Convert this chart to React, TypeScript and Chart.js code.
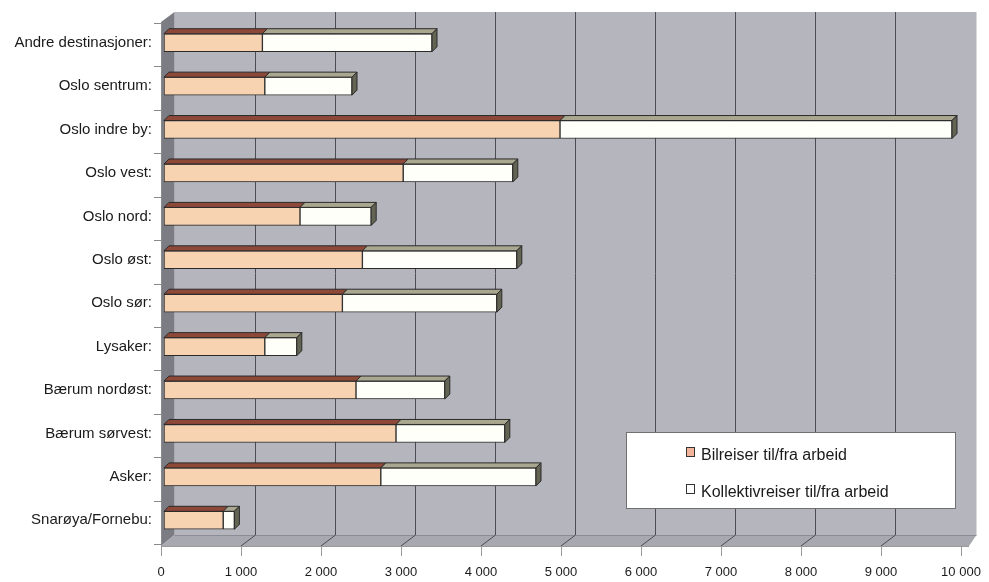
import React, { useEffect, useRef } from "react";
import { Chart, registerables } from "chart.js";
Chart.register(...registerables);

const categories = [
  "Andre destinasjoner:",
  "Oslo sentrum:",
  "Oslo indre by:",
  "Oslo vest:",
  "Oslo nord:",
  "Oslo øst:",
  "Oslo sør:",
  "Lysaker:",
  "Bærum nordøst:",
  "Bærum sørvest:",
  "Asker:",
  "Snarøya/Fornebu:",
];
const bilreiser = [1230, 1260, 4950, 2990, 1700, 2480, 2230, 1260, 2400, 2900, 2710, 740];
const kollektivreiser = [2120, 1090, 4900, 1370, 890, 1930, 1930, 400, 1110, 1360, 1940, 140];
const seriesLabels = ["Bilreiser til/fra arbeid", "Kollektivreiser til/fra arbeid"];
const xMin = 0;
const xMax = 10000;
const xStep = 1000;

const FONT = "'Liberation Sans', Arial, sans-serif";
const fmt = (v: number) => String(v).replace(/\B(?=(\d{3})+(?!\d))/g, " ");

const DX = 5;
const DY = 5;

const threeD = {
  id: "threeD",
  beforeDatasetsDraw(chart: any) {
    const { ctx, chartArea: ca, scales } = chart;
    const x = scales.x;
    const y = scales.y;
    const backTop = ca.top - 9;
    const backBottom = ca.bottom - 7;
    const frontBottom = ca.bottom + 4;
    const bx = (v: number) => x.getPixelForValue(v) + 10.5;
    const fx = (v: number) => x.getPixelForValue(v) - 3;
    ctx.save();
    // back wall
    ctx.fillStyle = "#b5b5bd";
    ctx.fillRect(bx(xMin), backTop, bx(xMax) + 2 - bx(xMin), backBottom - backTop);
    // left wall
    ctx.fillStyle = "#7c7c84";
    ctx.beginPath();
    ctx.moveTo(fx(xMin), backTop + 10);
    ctx.lineTo(bx(xMin), backTop);
    ctx.lineTo(bx(xMin), backBottom);
    ctx.lineTo(fx(xMin), frontBottom);
    ctx.closePath();
    ctx.fill();
    // floor
    ctx.fillStyle = "#a8a8b0";
    ctx.beginPath();
    ctx.moveTo(fx(xMin), frontBottom);
    ctx.lineTo(bx(xMin), backBottom);
    ctx.lineTo(bx(xMax) + 2, backBottom);
    ctx.lineTo(fx(xMax) + 8, frontBottom);
    ctx.closePath();
    ctx.fill();
    ctx.strokeStyle = "#8c8c94";
    ctx.beginPath();
    ctx.moveTo(bx(xMin), backBottom + 0.5);
    ctx.lineTo(bx(xMax) + 2, backBottom + 0.5);
    ctx.stroke();
    // grid lines
    ctx.strokeStyle = "#4c4c52";
    ctx.lineWidth = 1;
    for (let v = xMin + xStep; v < xMax; v += xStep) {
      const b = Math.round(bx(v)) + 0.5;
      ctx.beginPath();
      ctx.moveTo(b, backTop);
      ctx.lineTo(b, backBottom);
      ctx.lineTo(fx(v), frontBottom);
      ctx.stroke();
    }
    // front axis tick marks
    ctx.strokeStyle = "#9a9a9a";
    for (let v = xMin; v <= xMax; v += xStep) {
      const f = Math.round(fx(v)) + 0.5;
      ctx.beginPath();
      ctx.moveTo(f, frontBottom);
      ctx.lineTo(f, frontBottom + 10);
      ctx.stroke();
    }
    ctx.beginPath();
    ctx.moveTo(fx(xMin), frontBottom + 0.5);
    ctx.lineTo(fx(xMax) + 8, frontBottom + 0.5);
    ctx.stroke();
    // left axis line and ticks
    ctx.strokeStyle = "#8a8a8a";
    ctx.beginPath();
    ctx.moveTo(Math.round(fx(xMin)) + 0.5, backTop + 10);
    ctx.lineTo(Math.round(fx(xMin)) + 0.5, frontBottom);
    ctx.stroke();
    const n = categories.length;
    for (let i = 0; i <= n; i++) {
      const yy = i < n ? y.getPixelForValue(i) - (y.getPixelForValue(1) - y.getPixelForValue(0)) / 2 : ca.bottom;
      const py = Math.round(yy + 2) + 0.5;
      ctx.beginPath();
      ctx.moveTo(fx(xMin) - 7, py);
      ctx.lineTo(fx(xMin), py);
      ctx.stroke();
    }
    ctx.restore();
  },
  afterDatasetsDraw(chart: any) {
    const { ctx } = chart;
    const topColors = ["#8e4838", "#aaa790"];
    ctx.save();
    ctx.lineWidth = 1;
    ctx.strokeStyle = "#2a2a2a";
    chart.data.datasets.forEach((ds: any, di: number) => {
      const meta = chart.getDatasetMeta(di);
      meta.data.forEach((el: any) => {
        const { x, y, base, height } = el.getProps(["x", "y", "base", "height"], true);
        const top = y - height / 2;
        const bottom = y + height / 2;
        ctx.fillStyle = topColors[di];
        ctx.beginPath();
        ctx.moveTo(base, top);
        ctx.lineTo(base + DX, top - DY);
        ctx.lineTo(x + DX, top - DY);
        ctx.lineTo(x, top);
        ctx.closePath();
        ctx.fill();
        ctx.stroke();
        if (di === chart.data.datasets.length - 1) {
          ctx.fillStyle = "#646455";
          ctx.beginPath();
          ctx.moveTo(x, top);
          ctx.lineTo(x + DX, top - DY);
          ctx.lineTo(x + DX, bottom - DY);
          ctx.lineTo(x, bottom);
          ctx.closePath();
          ctx.fill();
          ctx.stroke();
        }
      });
    });
    ctx.restore();
  },
  afterDraw(chart: any) {
    const { ctx } = chart;
    ctx.save();
    const lx = 626, ly = 432, lw = 329, lh = 76;
    ctx.fillStyle = "#ffffff";
    ctx.fillRect(lx, ly, lw, lh);
    ctx.strokeStyle = "#707070";
    ctx.strokeRect(lx + 0.5, ly + 0.5, lw, lh);
    const sq = ["#f2b49a", "#ffffff"];
    const rows = [456, 493];
    ctx.font = `16px ${FONT}`;
    ctx.textBaseline = "middle";
    rows.forEach((ry, i) => {
      ctx.fillStyle = sq[i];
      ctx.fillRect(686.5, ry - 8.5, 8, 9);
      ctx.strokeStyle = "#333";
      ctx.strokeRect(686.5, ry - 8.5, 8, 9);
      ctx.fillStyle = "#1a1a1a";
      ctx.fillText(seriesLabels[i], 701, ry);
    });
    ctx.restore();
  },
};

export default function App() {
  const ref = useRef<HTMLCanvasElement>(null);
  useEffect(() => {
    if (!ref.current) return;
    const chart = new Chart(ref.current, {
      type: "bar",
      data: {
        labels: categories,
        datasets: [
          {
            label: seriesLabels[0],
            data: bilreiser,
            backgroundColor: "#f7d3b2",
            borderColor: "#2a2a2a",
            borderWidth: 1,
            borderSkipped: false,
            barThickness: 18,
          },
          {
            label: seriesLabels[1],
            data: kollektivreiser,
            backgroundColor: "#fffffa",
            borderColor: "#2a2a2a",
            borderWidth: 1,
            borderSkipped: false,
            barThickness: 18,
          },
        ],
      },
      options: {
        indexAxis: "y",
        animation: false,
        responsive: false,
        maintainAspectRatio: false,
        layout: { padding: { top: 21, right: 25, left: 0, bottom: 0 }, autoPadding: false },
        plugins: { legend: { display: false }, tooltip: { enabled: false } },
        scales: {
          x: {
            stacked: true,
            min: xMin,
            max: xMax,
            grid: { display: false, drawTicks: false },
            border: { display: false },
            ticks: {
              stepSize: xStep,
              padding: 23,
              labelOffset: -3,
              autoSkip: false,
              maxRotation: 0,
              color: "#1a1a1a",
              font: { family: FONT, size: 13 },
              callback: (v: any) => fmt(Number(v)),
            },
            afterFit: (s: any) => {
              s.height = 40;
              s.paddingLeft = 0;
              s.paddingRight = 0;
            },
          },
          y: {
            stacked: true,
            grid: { display: false, drawTicks: false },
            border: { display: false },
            ticks: {
              padding: 12,
              autoSkip: false,
              color: "#1a1a1a",
              font: { family: FONT, size: 15 },
            },
            afterFit: (s: any) => {
              s.width = 164;
              s.paddingTop = 0;
              s.paddingBottom = 0;
            },
          },
        },
      },
      plugins: [threeD],
    });
    return () => chart.destroy();
  }, []);
  return (
    <div style={{ position: "fixed", left: 0, top: 0, width: 989, height: 582, background: "#fff" }}>
      <canvas ref={ref} width={989} height={582} style={{ width: 989, height: 582 }} />
    </div>
  );
}
